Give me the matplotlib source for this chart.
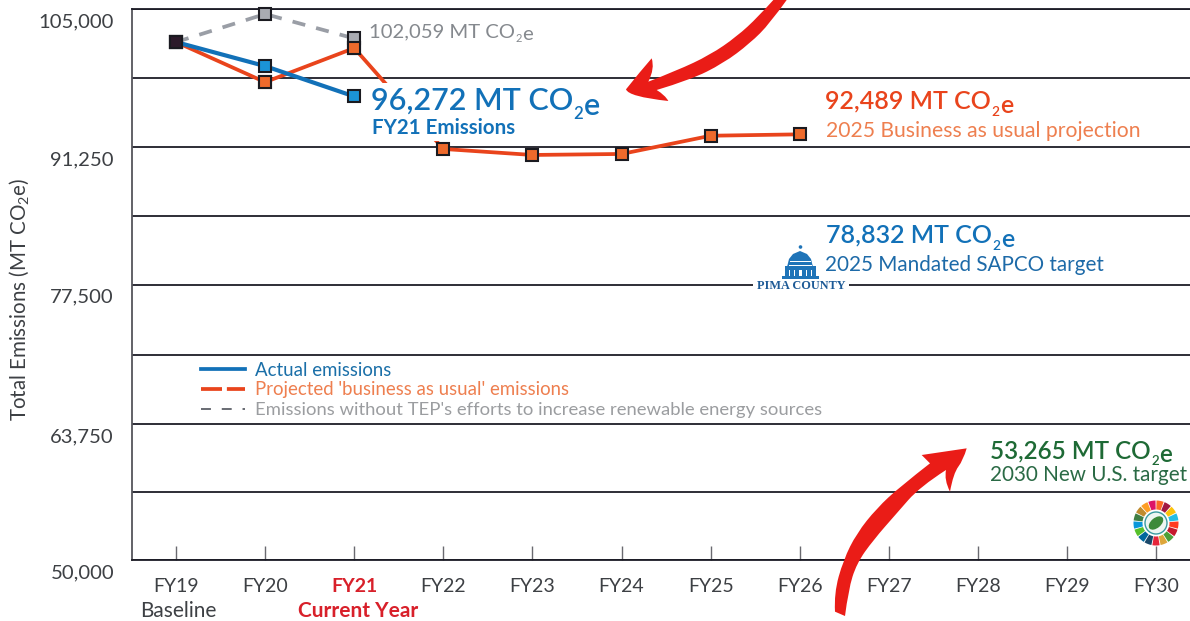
import matplotlib
matplotlib.use('Agg')
import matplotlib.pyplot as plt
from matplotlib.patches import Circle, Ellipse, PathPatch, Polygon, Rectangle, Wedge
from matplotlib.path import Path
from matplotlib.transforms import Affine2D

plt.rcParams['font.family'] = ['Lato', 'DejaVu Sans']
plt.rcParams['mathtext.default'] = 'regular'

# data
years = ['FY19', 'FY20', 'FY21', 'FY22', 'FY23', 'FY24', 'FY25', 'FY26',
         'FY27', 'FY28', 'FY29', 'FY30']
grid_values = [50000, 56790, 63575, 70460, 77500, 84375, 91250, 98125, 105000]
grid_labels = ['50,000', '', '63,750', '', '77,500', '', '91,250', '', '105,000']
actual = [101700, 99300, 96272]
without_tep = [101700, 104500, 102059]
business_as_usual = [101700, 97700, 101100, 91030, 90430, 90530, 92350, 92489]

BLUE = '#1271b8'
ORANGE = '#e9441c'
GRAY = '#9a9ea6'
LINE = '#1c1c26'
TEXT = '#3d4044'
ARROW = '#ea1c17'

fig = plt.figure(figsize=(11.9, 6.21), dpi=100, facecolor='white')
ax = fig.add_axes([132 / 1190, 1 - 560 / 621, 1058 / 1190, 551 / 621])
ax.set_xlim(-0.494, 11.38)
ax.set_ylim(50000, 105000)

# pixel coordinates of the reference, for the notes and drawn decorations
px = Affine2D().scale(1 / 1190, -1 / 621).translate(0, 1) + fig.transFigure


def note(x, y, s, size, color, weight='normal', ha='left', **kw):
    return ax.text(x, y, s, fontsize=size, color=color, fontweight=weight, ha=ha,
                   va='center', transform=px, clip_on=False, zorder=8, **kw)


def co2_note(x, y, amount, size, color, weight='semibold'):
    # the subscript in the picture sits lower than mathtext puts it
    first = ax.text(x, y, amount + ' MT CO', fontsize=size, color=color, fontweight=weight,
                    va='baseline', transform=px, clip_on=False, zorder=8)
    sub = ax.annotate('2', xy=(1, 0), xycoords=first, xytext=(0.3, -size * 0.12),
                      textcoords='offset points', fontsize=size * 0.55, color=color,
                      fontweight=weight, va='baseline', zorder=8, annotation_clip=False)
    ax.annotate('e', xy=(1, 0), xycoords=first, xytext=(size * 0.36, 0),
                textcoords='offset points', fontsize=size, color=color,
                fontweight=weight, va='baseline', zorder=8, annotation_clip=False)
    return sub


def smooth_shape(edges, **kw):
    # each edge is a curve through its points, edges meet in sharp corners
    verts = [edges[0][0]]
    codes = [Path.MOVETO]
    for edge in edges:
        if verts[-1] != edge[0]:
            verts.append(edge[0])
            codes.append(Path.LINETO)
        if len(edge) == 2:
            verts.append(edge[1])
            codes.append(Path.LINETO)
        for i in range(1, len(edge) - 1):
            a, b = edge[i], edge[i + 1]
            end = b if i == len(edge) - 2 else ((a[0] + b[0]) / 2, (a[1] + b[1]) / 2)
            verts += [a, end]
            codes += [Path.CURVE3, Path.CURVE3]
    verts.append(verts[0])
    codes.append(Path.CLOSEPOLY)
    ax.add_patch(PathPatch(Path(verts, codes), **kw))


ax.spines['right'].set_visible(False)
ax.spines['top'].set_color(LINE)
ax.spines['bottom'].set_color(LINE)
ax.spines['left'].set_color('#55555c')
for side in ['top', 'bottom', 'left']:
    ax.spines[side].set_linewidth(1.3)

ax.set_yticks(grid_values, labels=[''] * len(grid_values))
ax.tick_params(axis='y', length=0)
ax.grid(axis='y', color=LINE, lw=1.3, zorder=1)
ax.set_axisbelow(True)
for v, lab in zip(grid_values, grid_labels):
    ax.annotate(lab, xy=(0, v), xycoords=('axes fraction', 'data'),
                xytext=(-13, -9.2), textcoords='offset points', ha='right',
                va='center', fontsize=14.6, color=TEXT, annotation_clip=False)

ax.set_xticks(range(len(years)), labels=years)
ax.tick_params(axis='x', direction='in', length=10, width=1, color='#6a6a70',
               pad=13, labelsize=14, labelcolor=TEXT)
ax.get_xticklabels()[2].set_color('#d8202a')
ax.get_xticklabels()[2].set_fontweight('bold')
note(178, 611, 'Baseline', 15, TEXT, ha='center')
note(358, 611, 'Current Year', 15, '#d8202a', weight='bold', ha='center')

note(19, 299, 'Total Emissions (MT CO$_2$e)', 14.8, TEXT, ha='center',
     rotation=90, rotation_mode='anchor')

marker = dict(marker='s', ms=9.2, mec='#1a1a20', mew=1.5, clip_on=False)
ax.plot(range(len(business_as_usual)), business_as_usual, color=ORANGE, lw=2.7,
        mfc='#ee6a2c', zorder=3, **marker)
# the labels sit on a white box that hides part of the orange line
ax.add_patch(Rectangle((366, 83), 240, 58, fc='white', ec='none', transform=px,
                       zorder=3.5))
ax.plot(range(3), without_tep, color=GRAY, lw=2.7, ls=(0, (3.5, 3)), mfc='#a9abb2',
        zorder=4, **marker)
ax.plot(2, business_as_usual[2], color=ORANGE, mfc='#ee6a2c', zorder=4.2, **marker)
ax.plot(1, business_as_usual[1], color=ORANGE, mfc='#ee6a2c', zorder=4.2, **marker)
ax.plot(range(3), actual, color=BLUE, lw=3, mfc='#1b93d6', zorder=5, **marker)
ax.plot(0, actual[0], color='#2c1a2a', mfc='#2c1a2a', zorder=6, **marker)

co2_note(369, 37, '102,059', 14.6, '#85898e', weight='normal')
co2_note(371, 110, '96,272', 22, BLUE)
note(372, 128, 'FY21 Emissions', 14.8, BLUE, weight='bold')
co2_note(825, 109, '92,489', 18, ORANGE)
note(826, 131, '2025 Business as usual projection', 15.2, '#ee7f4f')
co2_note(826, 243, '78,832', 18, BLUE)
note(825, 265, '2025 Mandated SAPCO target', 14.9, '#1d6aa8')
co2_note(990, 458, '53,265', 17.5, '#1e6a35')
note(990, 475, '2030 New U.S. target', 14.9, '#2a6a45')

# legend
ax.plot([201, 245], [369, 369], color=BLUE, lw=2.7, transform=px, zorder=5)
ax.plot([201, 245], [389, 389], color=ORANGE, lw=2.7, ls=(0, (5.6, 1.3)),
        transform=px, zorder=5)
ax.plot([201, 245], [409, 409], color='#5d6068', lw=1.3, ls=(0, (5.5, 6)),
        transform=px, zorder=5)
note(255, 370, 'Actual emissions', 13.4, '#1a6fa8')
note(255, 390, "Projected 'business as usual' emissions", 13.4, '#ee7f4f')
note(255, 410, "Emissions without TEP's efforts to increase renewable energy sources",
     13.3, '#9b9da0')

# Pima County logo
ax.add_patch(Rectangle((753, 279), 96, 12, fc='white', ec='none', transform=px, zorder=4))
note(801, 286, 'PIMA COUNTY', 8.8, '#1d5a96', weight='bold', ha='center',
     family='Liberation Serif')
logo = '#1f74b8'
ax.add_patch(Rectangle((782, 276), 37, 2.5, fc=logo, ec='none', transform=px, zorder=5))
ax.add_patch(Rectangle((785, 266), 31, 4, fc=logo, ec='none', transform=px, zorder=5))
for cx in [787, 792, 797, 804, 809, 814]:
    ax.add_patch(Rectangle((cx - 1.7, 270), 3.4, 7, fc=logo, ec='none', transform=px, zorder=5))
ax.add_patch(Polygon([(787, 267), (789, 259), (793, 254), (800, 251), (807, 254),
                      (811, 259), (813, 267)], fc=logo, ec='none', transform=px, zorder=5))
ax.add_patch(Rectangle((790, 261), 21, 1, fc='white', ec='none', transform=px, zorder=6))
ax.add_patch(Rectangle((789, 265), 23, 1, fc='white', ec='none', transform=px, zorder=6))
ax.add_patch(Circle((800.5, 247), 1.8, fc=logo, ec='none', transform=px, zorder=5))

# goals wheel above FY30
wheel = ['#e5243b', '#dda63a', '#4c9f38', '#c5192d', '#ff3a21', '#26bde2', '#fcc30b',
         '#a21942', '#fd6925', '#dd1367', '#fd9d24', '#bf8b2e', '#3f7e44', '#0a97d9',
         '#56c02b', '#00689d', '#19486a']
step = 360 / len(wheel)
for i, c in enumerate(wheel):
    a = 90 - i * step
    ax.add_patch(Wedge((1156, 523), 22.5, a - step * 0.44, a + step * 0.44, width=9,
                       fc=c, ec='none', transform=px, zorder=5))
ax.add_patch(Circle((1156, 523), 11, fc='#eef6f2', ec='#3a9aa0', lw=1, transform=px, zorder=5))
ax.add_patch(Ellipse((1156, 523), 17, 10, angle=-40, fc='#3d8a3a', ec='none', transform=px,
                     zorder=6))

# hand drawn arrows
top_edges = [
    [(530, 0), (480, 70), (420, 130), (340, 190), (240, 240), (140, 270)],
    [(140, 270), (165, 285), (175, 303)],
    [(175, 303), (55, 290), (48, 268)],
    [(48, 268), (90, 215), (125, 175)],
    [(125, 175), (135, 205), (115, 245)],
    [(115, 245), (200, 212), (300, 165), (380, 110), (445, 50), (490, 0)],
]
smooth_shape([[(610 + x / 3, y / 3) for x, y in e] for e in top_edges], fc=ARROW, ec='none',
             transform=px, zorder=9, clip_on=False)
low_edges = [
    [(45, 545), (42, 490), (70, 390), (110, 310), (170, 235), (240, 170), (330, 100)],
    [(330, 100), (305, 75)],
    [(305, 75), (440, 55)],
    [(440, 55), (430, 90), (400, 130), (390, 185)],
    [(390, 185), (372, 150), (378, 120)],
    [(378, 120), (300, 170), (230, 250), (160, 330), (110, 400), (85, 480), (75, 558)],
]
smooth_shape([[(820 + x / 3, 430 + y / 3) for x, y in e] for e in low_edges], fc=ARROW,
             ec='none', transform=px, zorder=9, clip_on=False)

fig.savefig('out.png', dpi=100, facecolor='white')
